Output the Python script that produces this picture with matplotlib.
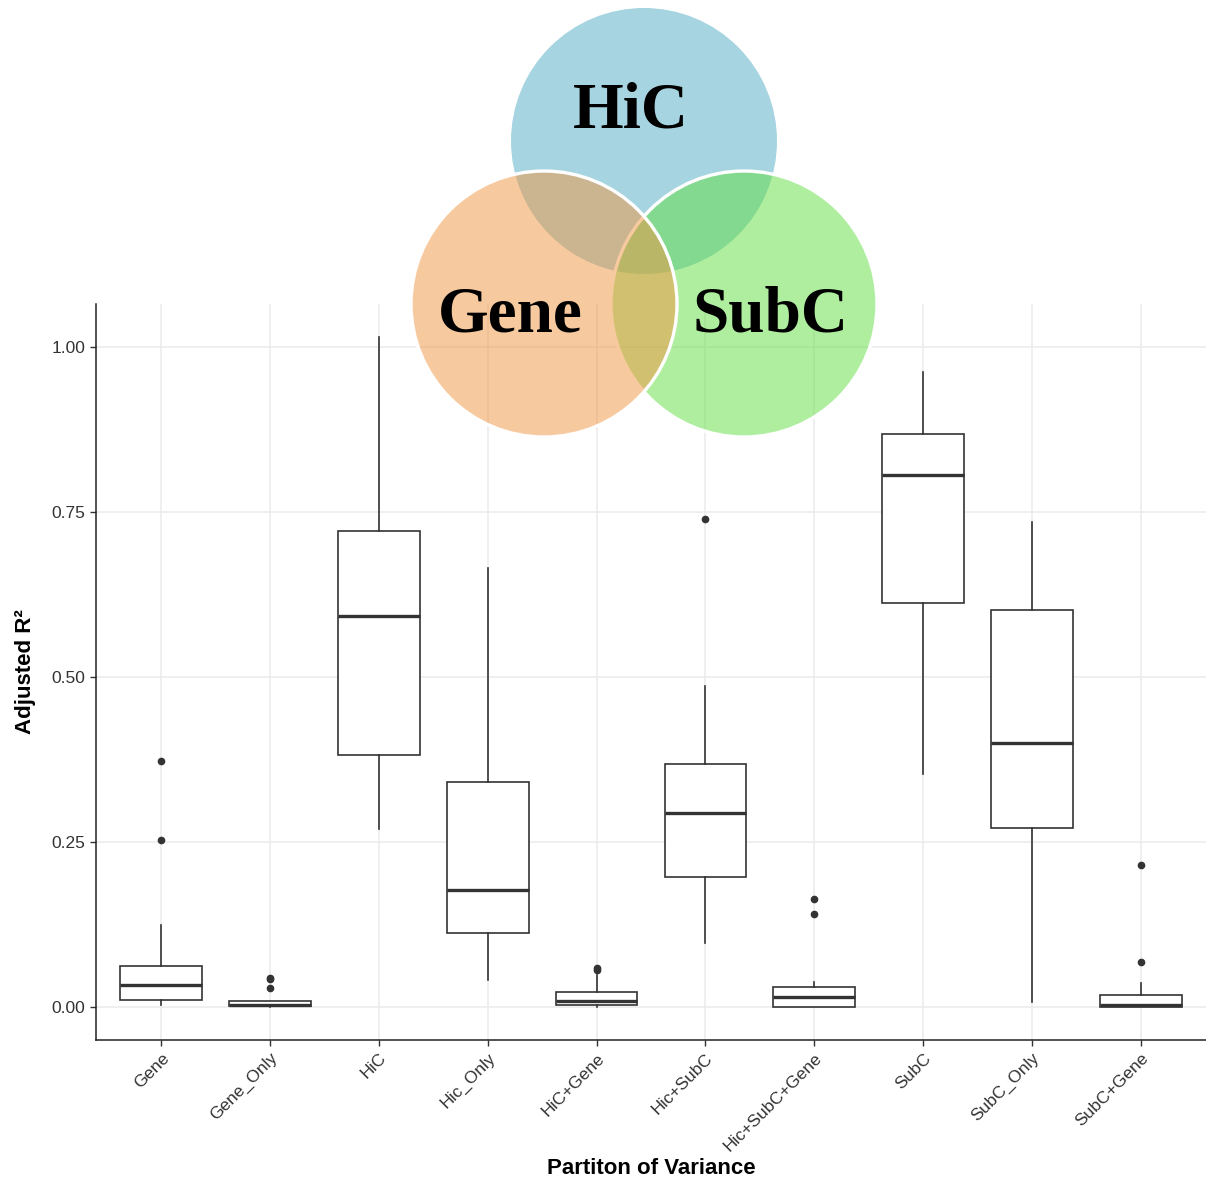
import matplotlib
matplotlib.use("Agg")
import matplotlib.pyplot as plt
from matplotlib.patches import Circle

# partitions of variance and their box summaries (adjusted R^2)
partitions = ["Gene", "Gene_Only", "HiC", "Hic_Only", "HiC+Gene",
              "Hic+SubC", "Hic+SubC+Gene", "SubC", "SubC_Only", "SubC+Gene"]
whis_lo = [0.002, 0.0, 0.269, 0.040, 0.0, 0.097, 0.0, 0.352, 0.0065, 0.0]
q1 = [0.0096, 0.0005, 0.382, 0.112, 0.003, 0.197, 0.0, 0.612, 0.271, 0.0]
median = [0.032, 0.002, 0.592, 0.177, 0.009, 0.293, 0.014, 0.806, 0.400, 0.002]
q3 = [0.062, 0.008, 0.721, 0.341, 0.022, 0.368, 0.029, 0.869, 0.602, 0.018]
whis_hi = [0.124, 0.009, 1.015, 0.666, 0.048, 0.487, 0.037, 0.962, 0.735, 0.035]
outliers = [[0.373, 0.253], [0.044, 0.042, 0.028], [], [], [0.059, 0.056],
            [0.740], [0.163, 0.141], [], [], [0.215, 0.068]]

# venn overlay: (label, centre x, centre y, colour, alpha) in figure pixels
venn_sets = ["HiC", "SubC", "Gene"]
venn_cx = [644, 744, 544]
venn_cy = [141, 304, 304]
venn_col = ["#a6d5e1", "#61dd41", "#f19541"]
venn_alpha = [1.0, 0.5, 0.5]
venn_r = 133
label_x = {"HiC": 631, "Gene": 510, "SubC": 770}
label_y = {"HiC": 128, "Gene": 331, "SubC": 331}

W, H = 1206, 1180
fig = plt.figure(figsize=(W / 100, H / 100), dpi=100)
ax = fig.add_axes([96 / W, 1 - 1040 / H, 1 - 96 / W, (1040 - 304) / H])

stats = []
for i, name in enumerate(partitions):
    stats.append(dict(label=name, whislo=whis_lo[i], q1=q1[i], med=median[i],
                      q3=q3[i], whishi=whis_hi[i], fliers=outliers[i]))

DARK = "#333333"
ax.bxp(stats, positions=range(1, len(partitions) + 1), widths=0.75,
       showcaps=False, patch_artist=True,
       boxprops=dict(facecolor="white", edgecolor=DARK, linewidth=1.2),
       whiskerprops=dict(color=DARK, linewidth=1.2),
       medianprops=dict(color=DARK, linewidth=2.4),
       flierprops=dict(marker="o", markerfacecolor=DARK, markeredgecolor=DARK,
                       markersize=4.5))

ax.set_xlim(0.4, len(partitions) + 0.6)
ax.set_ylim(-0.0508, 1.0658)
ax.set_yticks([0, 0.25, 0.5, 0.75, 1.0])
ax.set_yticklabels(["0.00", "0.25", "0.50", "0.75", "1.00"])
ax.set_xticklabels(partitions, rotation=45, ha="right", va="top",
                   rotation_mode="anchor")
ax.grid(True, color="#ebebeb", linewidth=1.1, zorder=0)
ax.set_axisbelow(True)
for s in ["top", "right"]:
    ax.spines[s].set_visible(False)
for s in ["left", "bottom"]:
    ax.spines[s].set_color("#222222")
    ax.spines[s].set_linewidth(1.1)
ax.tick_params(colors=DARK, length=4, width=1.0, labelsize=12.5,
               labelcolor=DARK)
for t in ax.get_xticklabels() + ax.get_yticklabels():
    t.set_family("Liberation Sans")

ax.set_xlabel("Partiton of Variance", fontsize=16, fontweight="bold",
              family="Liberation Sans")
ax.set_ylabel("Adjusted R²", fontsize=16, fontweight="bold",
              family="Liberation Sans")
ax.xaxis.set_label_coords(0.5, -0.161)
ax.yaxis.set_label_coords(-0.054, 0.5)

# venn diagram drawn in pixel space over the plot
vx = fig.add_axes([0, 0, 1, 1], zorder=5)
vx.set_xlim(0, W)
vx.set_ylim(H, 0)
vx.axis("off")
vx.patch.set_alpha(0)
for name, cx, cy, c, a in zip(venn_sets, venn_cx, venn_cy, venn_col, venn_alpha):
    edge = "none" if name == "HiC" else "white"
    vx.add_patch(Circle((cx, cy), venn_r, facecolor=matplotlib.colors.to_rgba(c, a),
                        edgecolor=edge, linewidth=2.4))
for name in venn_sets:
    vx.text(label_x[name], label_y[name], name, ha="center", va="baseline",
            fontsize=47, fontweight="bold", family="Liberation Serif",
            color="black")

fig.savefig("out.png", dpi=100)
